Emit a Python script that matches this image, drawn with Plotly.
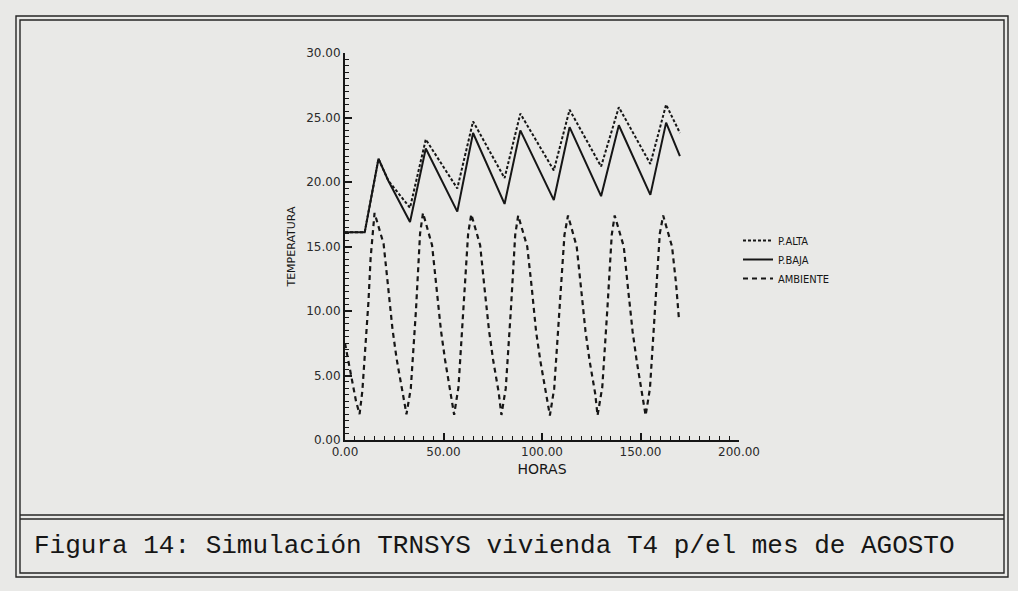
import plotly.graph_objects as go

# ---------------- data ----------------
hours_alta = [0, 10, 17, 22, 33, 41, 57, 65, 81, 89, 106, 114, 130, 139, 155, 163, 170]
temp_alta = [16.1, 16.1, 21.8, 20.1, 18.0, 23.3, 19.5, 24.7, 20.3, 25.3, 20.9, 25.6, 21.2, 25.8, 21.4, 26.0, 23.8]

hours_baja = [0, 10, 17, 22, 33, 41, 57, 65, 81, 89, 106, 114, 130, 139, 155, 163, 170]
temp_baja = [16.1, 16.1, 21.8, 20.1, 16.9, 22.6, 17.7, 23.8, 18.3, 24.0, 18.6, 24.25, 18.9, 24.4, 19.0, 24.6, 22.0]

hours_amb = [0, 1.7, 3.7, 5.6, 7.4, 8.8, 11.9, 13.0, 15.0,
             19.6, 21.8, 24.1, 26.2, 29.1, 31.2, 33.4, 36.0, 38.1, 39.6,
             44.2, 46.4, 48.7, 50.8, 53.5, 55.4, 57.6, 60.2, 62.5, 64.1,
             68.6, 70.8, 73.1, 75.2, 78.0, 79.4, 81.6, 84.2, 86.4, 87.9,
             92.5, 94.8, 97.0, 99.2, 102.0, 104.0, 106.2, 108.8, 111.4, 113.2,
             117.6, 119.8, 122.1, 124.2, 127.0, 128.2, 130.6, 133.2, 135.4, 136.9,
             141.5, 143.7, 146.0, 148.1, 151.0, 152.6, 154.8, 157.4, 159.8, 161.5,
             166.0, 168.0, 169.5]
temp_amb = [7.5, 6.2, 4.6, 3.0, 2.0, 3.8, 10.7, 14.1, 17.6,
            15.2, 12.0, 8.6, 6.3, 3.9, 2.0, 4.0, 10.0, 16.0, 17.6,
            15.1, 11.9, 8.5, 6.2, 3.8, 1.96, 4.1, 10.2, 16.0, 17.5,
            15.1, 11.8, 8.5, 6.2, 3.7, 1.94, 4.0, 10.1, 15.9, 17.4,
            15.0, 11.8, 8.4, 6.1, 3.7, 1.9, 4.0, 10.0, 15.9, 17.4,
            15.0, 11.8, 8.4, 6.1, 3.6, 1.9, 4.1, 10.2, 15.9, 17.4,
            15.0, 11.7, 8.4, 6.1, 3.6, 1.9, 4.0, 10.0, 16.0, 17.4,
            15.0, 12.2, 9.4]

x_ticks = [0, 50, 100, 150, 200]
x_tick_labels = ["0.00", "50.00", "100.00", "150.00", "200.00"]
y_ticks = [0, 5, 10, 15, 20, 25, 30]
y_tick_labels = ["0.00", "5.00", "10.00", "15.00", "20.00", "25.00", "30.00"]

series_names = ["P.ALTA", "P.BAJA", "AMBIENTE"]
caption = "Figura 14: Simulación TRNSYS vivienda T4 p/el mes de AGOSTO"

# ---------------- layout helpers ----------------
W, H = 1018, 591
def fx(p):
    return p / W
def fy(p):
    return 1 - p / H

INK = "#161616"
PAPER = "#e9e9e7"

fig = go.Figure()
fig.add_trace(go.Scatter(x=hours_alta, y=temp_alta, mode="lines", name=series_names[0],
                         line=dict(color=INK, width=2, dash="3px,2px")))
fig.add_trace(go.Scatter(x=hours_baja, y=temp_baja, mode="lines", name=series_names[1],
                         line=dict(color=INK, width=2)))
fig.add_trace(go.Scatter(x=hours_amb, y=temp_amb, mode="lines", name=series_names[2],
                         line=dict(color=INK, width=2.2, dash="5px,4px")))

tick_font = dict(family="DejaVu Sans, sans-serif", size=12, color="#2a2a2a")

fig.update_layout(
    width=W, height=H,
    margin=dict(l=0, r=0, t=0, b=0, autoexpand=False),
    paper_bgcolor=PAPER, plot_bgcolor=PAPER,
    showlegend=True,
    legend=dict(x=fx(738), y=fy(226), xanchor="left", yanchor="top",
                bgcolor="rgba(0,0,0,0)", tracegroupgap=0, itemwidth=30,
                font=dict(family="Liberation Sans Narrow, DejaVu Sans Condensed, sans-serif",
                          size=11, color=INK)),
    xaxis=dict(domain=[fx(345), fx(739)], range=[0, 200], automargin=False,
               tickvals=x_ticks, ticktext=x_tick_labels, tickfont=tick_font,
               showline=True, linecolor=INK, linewidth=2,
               ticks="inside", ticklen=7, tickwidth=1.5, tickcolor=INK,
               minor=dict(ticks="inside", dtick=5, ticklen=4, tickwidth=1.2, tickcolor=INK),
               showgrid=False, zeroline=False,
               title=dict(text="HORAS", standoff=6,
                          font=dict(family="DejaVu Sans, sans-serif", size=14, color=INK))),
    yaxis=dict(domain=[fy(440), fy(53)], range=[0, 30], automargin=False,
               tickvals=y_ticks, ticktext=y_tick_labels, tickfont=tick_font,
               showline=True, linecolor=INK, linewidth=2,
               ticks="inside", ticklen=7, tickwidth=1.5, tickcolor=INK,
               minor=dict(ticks="inside", dtick=0.5, ticklen=4, tickwidth=1.2, tickcolor=INK),
               showgrid=False, zeroline=False,
               title=dict(text="TEMPERATURA", standoff=8,
                          font=dict(family="DejaVu Sans, sans-serif", size=11, color=INK))),
)

# double-line frame and caption box
shapes = []
for off in (0, 4):
    shapes.append(dict(type="rect", xref="paper", yref="paper",
                       x0=fx(16 + off), x1=fx(1008 - off), y0=fy(16 + off), y1=fy(577 - off),
                       line=dict(color="#262626", width=1.4), fillcolor="rgba(0,0,0,0)"))
for yy in (515, 519):
    shapes.append(dict(type="line", xref="paper", yref="paper",
                       x0=fx(20), x1=fx(1004), y0=fy(yy), y1=fy(yy),
                       line=dict(color="#262626", width=1.4)))
fig.update_layout(shapes=shapes)

fig.add_annotation(text=caption, xref="paper", yref="paper",
                   x=fx(32), y=fy(546), xanchor="left", yanchor="middle", showarrow=False,
                   font=dict(family="Liberation Mono, DejaVu Sans Mono, monospace", size=26, color=INK))

fig.write_html("out.html",
               config={"displayModeBar": False},
               post_script="document.body.style.margin='0';document.body.style.overflow='hidden';"
                           "document.body.style.background='" + PAPER + "';")
